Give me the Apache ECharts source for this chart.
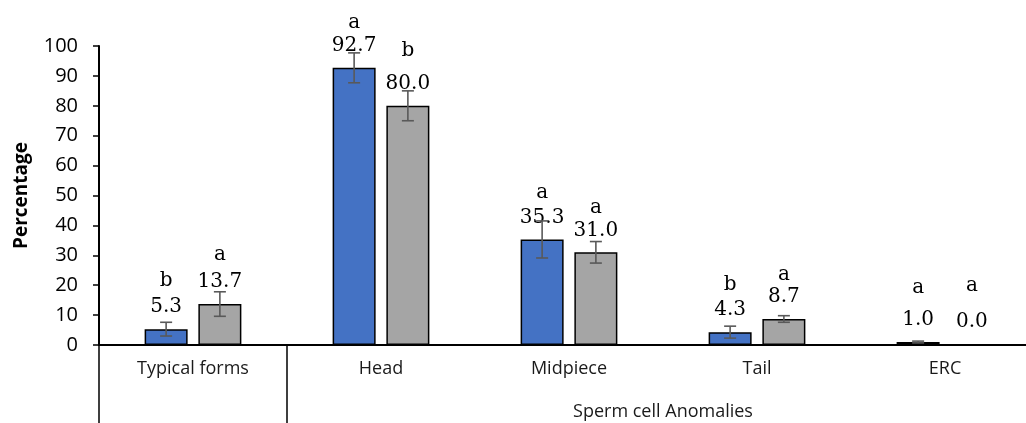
<!DOCTYPE html>
<html>
<head>
<meta charset="utf-8">
<script src="https://cdn.jsdelivr.net/npm/echarts@6/dist/echarts.min.js"></script>
<style>
html,body{margin:0;padding:0;background:#fff;}
#c{width:1026px;height:423px;}
</style>
</head>
<body>
<div id="c"></div>
<script>
// ---- data ----
const categories = ['Typical forms', 'Head', 'Midpiece', 'Tail', 'ERC'];
const groupLabel = 'Sperm cell Anomalies';
const seriesA = [5.3, 92.7, 35.3, 4.3, 1.0];
const seriesB = [13.7, 80.0, 31.0, 8.7, 0.0];
const errA = [2.3, 5.0, 6.2, 2.0, 0.3];
const errB = [4.1, 5.0, 3.6, 1.1, 0.0];
const lettersA = ['b', 'a', 'a', 'b', 'a'];
const lettersB = ['a', 'b', 'a', 'a', 'a'];
const yTicks = [0, 10, 20, 30, 40, 50, 60, 70, 80, 90, 100];

// ---- style ----
const BAR_W = 43;
const BAR_GAP = 0.25;
const serif = '"DejaVu Serif", serif';
const sans = '"Open Sans", sans-serif';
const letterLineA = [32, 26, 30, 30, 44];
const letterLineB = [34, 46, 26, 24, 52];

const chart = echarts.init(document.getElementById('c'), null, {renderer: 'canvas'});

function labelFor(letters) {
  return function (p) {
    return '{l' + p.dataIndex + '|' + letters[p.dataIndex] + '}\n{v|' + p.value.toFixed(1) + '}';
  };
}
function richFor(lines) {
  const r = {v: {fontFamily: serif, fontSize: 20, lineHeight: 20, color: '#000'}};
  lines.forEach((h, i) => {
    r['l' + i] = {fontFamily: serif, fontSize: 20, lineHeight: h, color: '#000'};
  });
  return r;
}

const half = (BAR_W + BAR_W * BAR_GAP) / 2;
function errSeries(vals, errs, offset) {
  return {
    type: 'custom',
    z: 5,
    data: vals.map((v, i) => [i, v - errs[i], v + errs[i]]),
    renderItem: function (params, api) {
      if (api.value(2) - api.value(1) <= 0) return null;
      const x = api.coord([api.value(0), 0])[0] + offset;
      const yl = api.coord([api.value(0), api.value(1)])[1];
      const yh = api.coord([api.value(0), api.value(2)])[1];
      const cw = 6;
      const st = {stroke: '#595959', lineWidth: 1.6};
      return {
        type: 'group',
        children: [
          {type: 'line', shape: {x1: x, y1: yl, x2: x, y2: yh}, style: st},
          {type: 'line', shape: {x1: x - cw, y1: yl, x2: x + cw, y2: yl}, style: st},
          {type: 'line', shape: {x1: x - cw, y1: yh, x2: x + cw, y2: yh}, style: st}
        ]
      };
    }
  };
}

const option = {
  animation: false,
  backgroundColor: '#fff',
  grid: {left: 99, top: 46, bottom: 78, width: 940, outerBoundsMode: 'none', containLabel: false},
  xAxis: {
    type: 'category',
    data: categories,
    boundaryGap: true,
    axisLine: {show: true, lineStyle: {color: '#000', width: 2}},
    axisTick: {
      show: true,
      interval: function (i) { return i <= 1; },
      length: 78,
      lineStyle: {color: '#000', width: 1.5}
    },
    axisLabel: {
      interval: 0,
      margin: 15,
      fontFamily: sans,
      fontSize: 18,
      color: '#1a1a1a'
    },
    splitLine: {show: false}
  },
  yAxis: {
    type: 'value',
    min: yTicks[0],
    max: yTicks[yTicks.length - 1],
    interval: yTicks[1] - yTicks[0],
    name: 'Percentage',
    nameLocation: 'middle',
    nameGap: 68,
    nameTextStyle: {fontFamily: sans, fontSize: 19, fontWeight: 'bold', color: '#000'},
    axisLine: {show: true, lineStyle: {color: '#000', width: 2}},
    axisTick: {show: true, length: 6, lineStyle: {color: '#000', width: 1.5}},
    axisLabel: {margin: 21, fontFamily: sans, fontSize: 20, color: '#000'},
    splitLine: {show: false}
  },
  series: [
    {
      type: 'bar',
      data: seriesA,
      barWidth: BAR_W,
      barGap: (BAR_GAP * 100) + '%',
      itemStyle: {color: '#4472C4', borderColor: '#000', borderWidth: 1.5},
      label: {
        show: true,
        position: 'top',
        distance: 12,
        align: 'center',
        formatter: labelFor(lettersA),
        rich: richFor(letterLineA)
      }
    },
    {
      type: 'bar',
      data: seriesB,
      barWidth: BAR_W,
      barGap: (BAR_GAP * 100) + '%',
      itemStyle: {color: '#A5A5A5', borderColor: '#000', borderWidth: 1.5},
      label: {
        show: true,
        position: 'top',
        distance: 12,
        align: 'center',
        formatter: labelFor(lettersB),
        rich: richFor(letterLineB)
      }
    },
    errSeries(seriesA, errA, -half),
    errSeries(seriesB, errB, half)
  ]
};
chart.setOption(option);

// group label centred under its categories
const x1 = chart.convertToPixel({xAxisIndex: 0}, categories[1]);
const x2 = chart.convertToPixel({xAxisIndex: 0}, categories[categories.length - 1]);
const y0 = chart.convertToPixel({yAxisIndex: 0}, 0);
chart.setOption({
  graphic: [{
    type: 'text',
    x: (x1 + x2) / 2,
    y: y0 + 67,
    style: {
      text: groupLabel,
      fontFamily: sans,
      fontSize: 18,
      fill: '#1a1a1a',
      align: 'center',
      verticalAlign: 'middle'
    }
  }]
});
</script>
</body>
</html>
